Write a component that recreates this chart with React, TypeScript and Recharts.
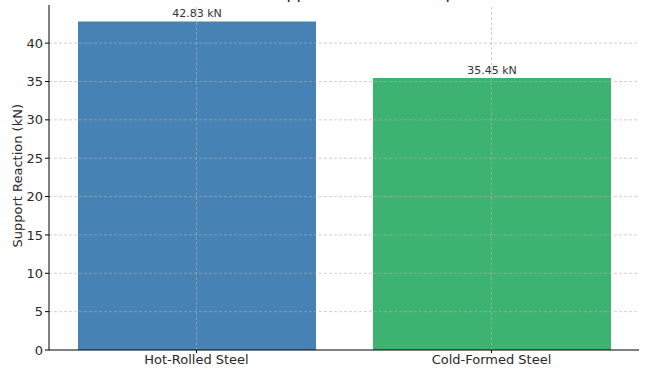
import { BarChart, Bar, XAxis, YAxis, Cell, LabelList, ReferenceLine } from "recharts";

const steelTypes = ["Hot-Rolled Steel", "Cold-Formed Steel"];
const reactions = [42.83, 35.45];
const barColors = ["#4682B4", "#3CB371"];
const yTicks = [0, 5, 10, 15, 20, 25, 30, 35, 40];

const data = steelTypes.map((name, i) => ({ name, value: reactions[i] }));

const font = "DejaVu Sans, sans-serif";
const gridStyle = { stroke: "#b0b0b0", strokeOpacity: 0.6, strokeDasharray: "3 2" };

export default function App() {
  return (
    <div style={{ position: "absolute", left: 0, top: 0, width: 659, height: 369, overflow: "hidden", background: "#fff", fontFamily: font }}>
      {/* title sits mostly above the frame, only descenders show */}
      <div style={{ position: "absolute", left: 0, width: 659, top: -14, lineHeight: "16px", fontSize: 16, textAlign: "center", color: "#222", paddingLeft: 14 }}>
        Maximum Support Reaction Comparison
      </div>
      <BarChart width={659} height={369} data={data} margin={{ top: 5, right: 20, left: 0, bottom: 0 }}>
        <XAxis
          dataKey="name"
          height={19}
          stroke="#000"
          tickLine={{ stroke: "#000" }}
          tickSize={3}
          tick={{ fill: "#2a2a2a", fontSize: 13, fontFamily: font }}
        />
        <YAxis
          width={49}
          domain={[0, 44.97]}
          ticks={yTicks}
          stroke="#000"
          tickSize={4}
          tick={{ fill: "#2a2a2a", fontSize: 13, fontFamily: font }}
          label={{ value: "Support Reaction (kN)", angle: -90, position: "insideLeft", dx: 12, dy: 70, fill: "#2a2a2a", fontSize: 13, fontFamily: font }}
        />
        <Bar dataKey="value" barSize={238} isAnimationActive={false}>
          {data.map((d, i) => (
            <Cell key={d.name} fill={barColors[i]} />
          ))}
          <LabelList dataKey="value" position="top" offset={4} formatter={(v: number) => `${v} kN`} style={{ fill: "#333", fontSize: 11, fontFamily: font }} />
        </Bar>
        {yTicks.filter((t) => t > 0).map((t) => (
          <ReferenceLine key={`h${t}`} y={t} {...gridStyle} />
        ))}
        {steelTypes.map((s) => (
          <ReferenceLine key={`v${s}`} x={s} {...gridStyle} />
        ))}
      </BarChart>
    </div>
  );
}
